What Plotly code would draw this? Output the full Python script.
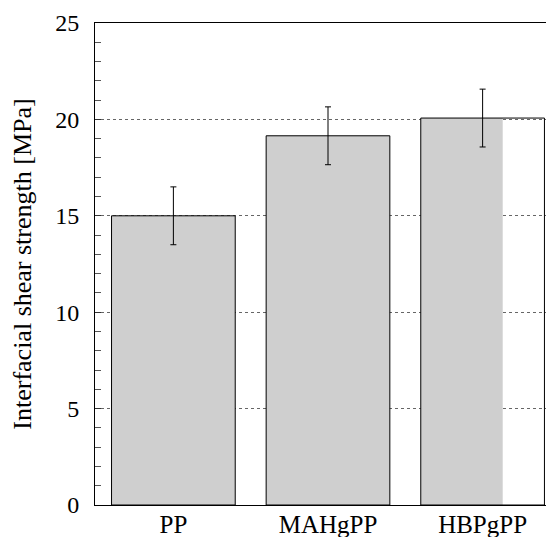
import plotly.graph_objects as go

# Interfacial shear strength of PP-based matrices
categories = ["PP", "MAHgPP", "HBPgPP"]
strength = [15.0, 19.15, 20.07]
strength_err = [1.5, 1.5, 1.5]
y_ticks = [0, 5, 10, 15, 20, 25]

# width of the stippled area inside each bar (fraction of category spacing)
stipple_width = [0.8, 0.8, 0.53]

FONT = "Liberation Serif, Times New Roman, serif"
x_pos = list(range(len(categories)))

fig = go.Figure()

# stippled grey fill
fig.add_trace(go.Bar(
    x=x_pos,
    y=strength,
    width=stipple_width,
    offset=[-0.4] * len(categories),
    marker=dict(
        color="white",
        line=dict(width=0),
        pattern=dict(shape=".", size=2, solidity=0.5,
                     fgcolor="#929292", bgcolor="white", fillmode="replace"),
    ),
    hoverinfo="skip",
    showlegend=False,
))

# bar outlines with error bars
fig.add_trace(go.Bar(
    x=x_pos,
    y=strength,
    width=0.8,
    offset=-0.4,
    marker=dict(color="rgba(0,0,0,0)", line=dict(color="black", width=1)),
    error_y=dict(type="data", array=strength_err, color="black",
                 thickness=1, width=3),
    showlegend=False,
))

fig.update_layout(
    width=556,
    height=537,
    margin=dict(l=95, r=10, t=23, b=32),
    paper_bgcolor="white",
    plot_bgcolor="white",
    font=dict(family=FONT, size=24, color="black"),
    barmode="overlay",
    xaxis=dict(
        range=[-0.507, 2.41],
        tickmode="array",
        tickvals=x_pos,
        ticktext=categories,
        tickfont=dict(size=25),
        ticks="",
        showgrid=False,
        showline=True,
        linecolor="black",
        linewidth=1,
        mirror=True,
        zeroline=False,
        ticklabelstandoff=-3,
        automargin=False,
    ),
    yaxis=dict(
        range=[0, 25],
        tickmode="array",
        tickvals=y_ticks,
        tickfont=dict(size=24),
        ticks="inside",
        ticklen=6,
        tickcolor="#333",
        showline=True,
        linecolor="black",
        linewidth=1,
        zeroline=False,
        showgrid=True,
        gridcolor="#666",
        griddash="dot",
        gridwidth=1,
        minor=dict(dtick=1, ticks="inside", ticklen=6, tickcolor="#555",
                   showgrid=False),
        ticklabelstandoff=10,
        automargin=False,
        title=dict(text="Interfacial shear strength [MPa]",
                   font=dict(size=26), standoff=16),
    ),
    yaxis2=dict(
        range=[0, 25],
        overlaying="y",
        side="right",
        tickmode="array",
        tickvals=y_ticks,
        ticks="outside",
        ticklen=10,
        tickcolor="#333",
        showticklabels=False,
        showline=True,
        linecolor="black",
        linewidth=1,
        showgrid=False,
        zeroline=False,
        automargin=False,
        minor=dict(dtick=1, ticks="outside", ticklen=10, tickcolor="#bbb"),
    ),
)

fig.write_html("out.html")
